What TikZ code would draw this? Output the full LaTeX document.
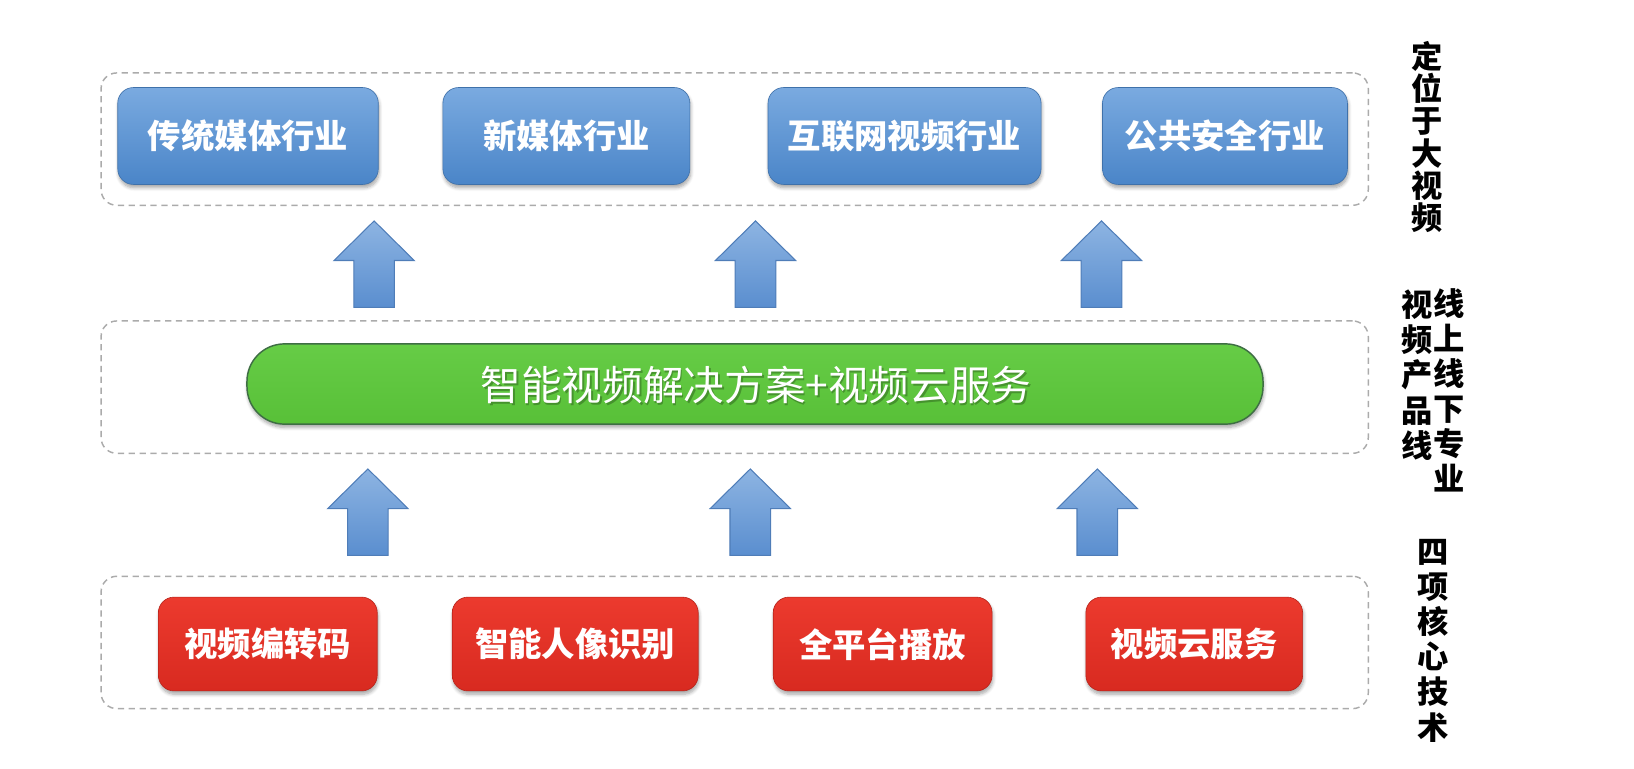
\documentclass[tikz,border=0pt]{standalone}
\usepackage{fontspec}
\setmainfont{Noto Sans CJK SC}
\usetikzlibrary{shadows.blur}
\definecolor{bluetop}{HTML}{7AAAE0}
\definecolor{bluebot}{HTML}{4A85C8}
\definecolor{arrtop}{HTML}{8DB4E2}
\definecolor{arrbot}{HTML}{5A8ECF}
\definecolor{arredge}{HTML}{4F7DB8}
\definecolor{greenfill}{HTML}{58C038}
\definecolor{greentop}{HTML}{66CC46}
\definecolor{greenedge}{HTML}{3E6E44}
\definecolor{redtop}{HTML}{EC3A2E}
\definecolor{redbot}{HTML}{D82A20}
\definecolor{dashgray}{HTML}{ABABAB}
\begin{document}
\begin{tikzpicture}[x=0.5pt,y=-0.5pt,
  layerbox/.style={draw=dashgray, line width=0.7pt, dash pattern=on 3pt off 2.2pt,
    rounded corners=7.5pt, minimum width=608pt, minimum height=63.5pt, inner sep=0pt},
  softshadow/.style={blur shadow={shadow blur steps=6, shadow xshift=0.4pt,
    shadow yshift=-1.6pt, shadow opacity=35, shadow blur radius=1.6pt}},
  bluebox/.style={rounded corners=7.5pt, top color=bluetop, bottom color=bluebot,
    draw=bluebot!85!black, line width=0.3pt, softshadow,
    minimum height=46.5pt, inner sep=0pt, text=white,
    font=\fontsize{16}{18}\selectfont\bfseries},
  redbox/.style={rounded corners=7.5pt, top color=redtop, bottom color=redbot,
    draw=redbot!85!black, line width=0.3pt, softshadow,
    minimum height=45pt, inner sep=0pt, text=white,
    font=\fontsize{16}{18}\selectfont\bfseries},
  greenbox/.style={rounded corners=18pt, top color=greentop, bottom color=greenfill,
    draw=greenedge, line width=0.7pt, softshadow,
    minimum width=487.5pt, minimum height=38.5pt, inner sep=0pt},
  greentext/.style={inner sep=0pt, text=white, font=\fontsize{19.5}{22}\selectfont},
  greenshadow/.style={inner sep=0pt, text=black, opacity=0.25, font=\fontsize{19.5}{22}\selectfont},
  sidelabel/.style={align=center, inner sep=0pt, text=black,
    font=\fontsize{15}{16.8}\selectfont\bfseries},
  arrowfill/.style={top color=arrtop, bottom color=arrbot, draw=arredge, line width=0.5pt},
  uparr/.pic={\path[arrowfill] (0,0) -- (38.5,38) -- (19.5,38) -- (19.5,83)
     -- (-19.5,83) -- (-19.5,38) -- (-38.5,38) -- cycle;}
]
\useasboundingbox (0,0) rectangle (1568,737);

% layer frames
\node[layerbox] (top)    at (705,133.5) {};
\node[layerbox] (middle) at (705,371.5) {};
\node[layerbox] (bottom) at (705,616.5) {};

% top row: industries
\node[bluebox, minimum width=125pt]   (b1) at (238,130.5)   {传统媒体行业};
\node[bluebox, minimum width=118.5pt] (b2) at (543.5,130.5) {新媒体行业};
\node[bluebox, minimum width=131pt]   (b3) at (868,130.5)   {互联网视频行业};
\node[bluebox, minimum width=117.5pt] (b4) at (1175.5,130.5) {公共安全行业};

% middle: product line
\node[greenbox] (g) at (724.5,368.5) {};
\node[greenshadow] (gs) at (727,371) {智能视频解决方案+视频云服务};
\node[greentext] (gt) at (725.5,369) {智能视频解决方案+视频云服务};

% bottom row: core technologies
\node[redbox, minimum width=105pt] (r1) at (257,618)  {视频编转码};
\node[redbox, minimum width=118pt] (r2) at (552,618)  {智能人像识别};
\node[redbox, minimum width=105pt] (r3) at (847,618)  {全平台播放};
\node[redbox, minimum width=104pt] (r4) at (1146,618) {视频云服务};

% block arrows
\pic at (359,212) {uparr};
\pic at (725,212) {uparr};
\pic at (1057,212) {uparr};
\pic at (353,450) {uparr};
\pic at (720,450) {uparr};
\pic at (1053,450) {uparr};

% side labels
\node[sidelabel, font=\fontsize{15}{15.4}\selectfont\bfseries] (s1) at (1369,131.5) {定\\位\\于\\大\\视\\频};
\node[sidelabel] (s2a) at (1391,375) {线\\上\\线\\下\\专\\业};
\node[sidelabel] (s2b) at (1360,360) {视\\频\\产\\品\\线};
\node[sidelabel] (s3) at (1375,615) {四\\项\\核\\心\\技\\术};
\end{tikzpicture}
\end{document}
